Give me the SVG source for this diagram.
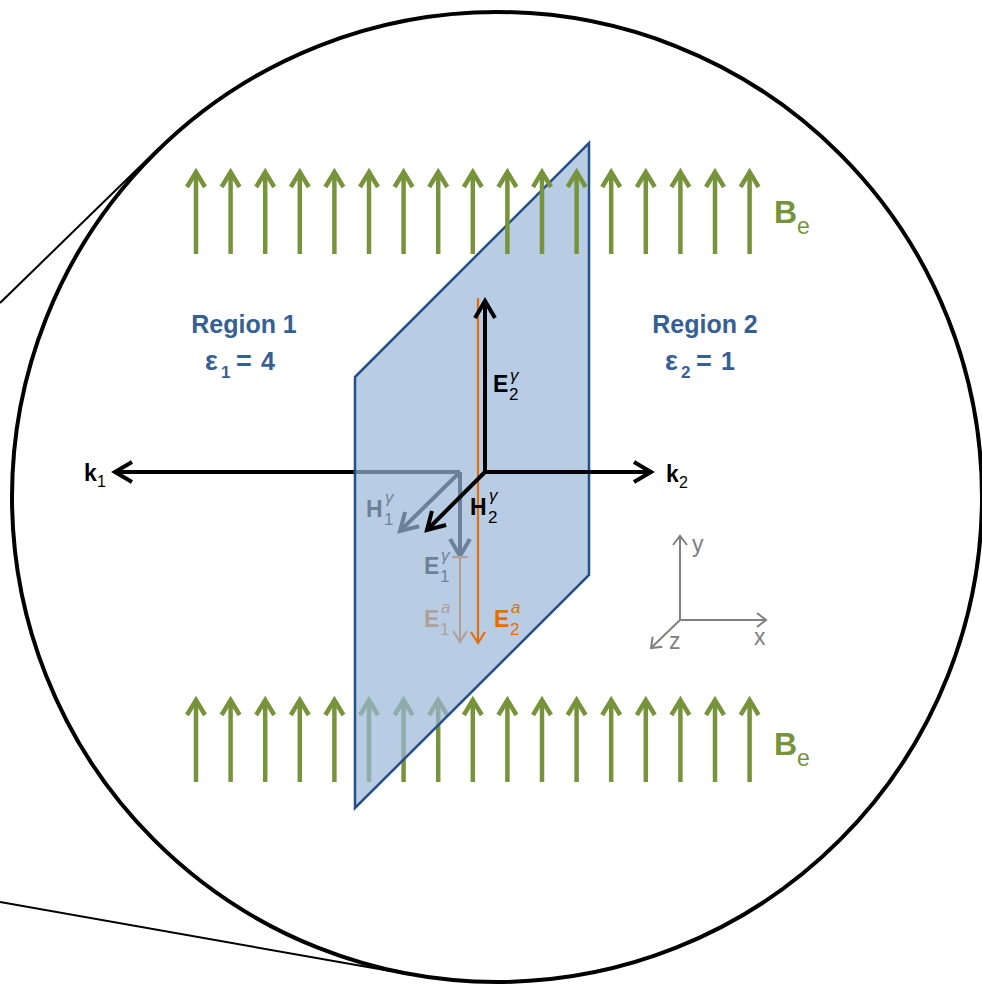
<svg xmlns="http://www.w3.org/2000/svg" xmlns:xlink="http://www.w3.org/1999/xlink" width="982" height="984" viewBox="0 0 982 984">
<style>
.txt{font-family:"Liberation Sans",Arial,sans-serif}
.b{font-weight:bold}
.it{font-style:italic}
.blue{fill:#376092}
.green{fill:#77933c}
.gray{fill:#808080}
.ga{stroke:#77933c;stroke-width:4.5;fill:none}
.blk{stroke:#000;stroke-width:4;fill:none}
.org{stroke:#e46c0a;stroke-width:2.2;fill:none}
.ax{stroke:#808080;stroke-width:2;fill:none}
</style>
<defs>
<g id="garrow">
<line class="ga" x1="0" y1="2" x2="0" y2="84"/>
<polyline class="ga" points="-9,17 0,2 9,17"/>
</g>
<marker id="mBlk" markerUnits="userSpaceOnUse" viewBox="-22 -14 26 28" markerWidth="26" markerHeight="28" refX="0" refY="0" orient="auto" overflow="visible">
<polyline points="-17,-10 0,0 -17,10" fill="none" stroke="#000" stroke-width="4"/>
</marker>
<marker id="mOrg" markerUnits="userSpaceOnUse" viewBox="-14 -10 16 20" markerWidth="16" markerHeight="20" refX="0" refY="0" orient="auto" overflow="visible">
<polyline points="-11,-7 0,0 -11,7" fill="none" stroke="#e46c0a" stroke-width="2.2"/>
</marker>
<marker id="mAx" markerUnits="userSpaceOnUse" viewBox="-12 -9 14 18" markerWidth="14" markerHeight="18" refX="0" refY="0" orient="auto" overflow="visible">
<polyline points="-9,-7 0,0 -9,7" fill="none" stroke="#808080" stroke-width="2"/>
</marker>
</defs>
<rect width="982" height="984" fill="#fff"/>
<g id="lens">
<circle cx="497" cy="497" r="485" fill="none" stroke="#000" stroke-width="4"/>
<line x1="0" y1="303" x2="159" y2="148" stroke="#000" stroke-width="2"/>
<line x1="0" y1="902" x2="413" y2="975" stroke="#000" stroke-width="2"/>
</g>
<g id="field-bottom">
<use xlink:href="#garrow" x="196" y="698"/>
<use xlink:href="#garrow" x="230.6" y="698"/>
<use xlink:href="#garrow" x="265.2" y="698"/>
<use xlink:href="#garrow" x="299.8" y="698"/>
<use xlink:href="#garrow" x="334.4" y="698"/>
<use xlink:href="#garrow" x="369" y="698"/>
<use xlink:href="#garrow" x="403.6" y="698"/>
<use xlink:href="#garrow" x="438.2" y="698"/>
<use xlink:href="#garrow" x="472.8" y="698"/>
<use xlink:href="#garrow" x="507.4" y="698"/>
<use xlink:href="#garrow" x="542" y="698"/>
<use xlink:href="#garrow" x="576.6" y="698"/>
<use xlink:href="#garrow" x="611.2" y="698"/>
<use xlink:href="#garrow" x="645.8" y="698"/>
<use xlink:href="#garrow" x="680.4" y="698"/>
<use xlink:href="#garrow" x="715" y="698"/>
<use xlink:href="#garrow" x="749.6" y="698"/>
</g>
<g id="connectors-behind">
<line x1="460" y1="472" x2="115" y2="472" class="blk" marker-end="url(#mBlk)"/>
<line x1="460" y1="472" x2="400" y2="531" class="blk" marker-end="url(#mBlk)"/>
<line x1="460" y1="472" x2="460" y2="556" class="blk" marker-end="url(#mBlk)"/>
<line x1="460" y1="557" x2="460" y2="642" class="org" marker-end="url(#mOrg)"/>
<line x1="452" y1="557" x2="468" y2="557" class="org"/>
</g>
<g id="labels-behind" class="txt">
<text x="366" y="517" font-size="23" class="b">H</text>
<text x="384" y="525" font-size="17">1</text>
<text x="385" y="503" font-size="17" class="it">γ</text>
<text x="424" y="574" font-size="23" class="b">E</text>
<text x="440" y="582" font-size="17">1</text>
<text x="441" y="561" font-size="17" class="it">γ</text>
<text x="424" y="627" font-size="23" class="b" fill="#e46c0a">E</text>
<text x="440" y="635" font-size="17" fill="#e46c0a">1</text>
<text x="441" y="613" font-size="17" class="it" fill="#e46c0a">a</text>
</g>
<g id="plane">
<polygon points="355,377 589,143 589,575 355,808" fill="#9ab6d8" fill-opacity="0.7" stroke="#254f86" stroke-width="2.5" stroke-linejoin="miter"/>
</g>
<g id="field-top">
<use xlink:href="#garrow" x="196" y="170"/>
<use xlink:href="#garrow" x="230.6" y="170"/>
<use xlink:href="#garrow" x="265.2" y="170"/>
<use xlink:href="#garrow" x="299.8" y="170"/>
<use xlink:href="#garrow" x="334.4" y="170"/>
<use xlink:href="#garrow" x="369" y="170"/>
<use xlink:href="#garrow" x="403.6" y="170"/>
<use xlink:href="#garrow" x="438.2" y="170"/>
<use xlink:href="#garrow" x="472.8" y="170"/>
<use xlink:href="#garrow" x="507.4" y="170"/>
<use xlink:href="#garrow" x="542" y="170"/>
<use xlink:href="#garrow" x="576.6" y="170"/>
<use xlink:href="#garrow" x="611.2" y="170"/>
<use xlink:href="#garrow" x="645.8" y="170"/>
<use xlink:href="#garrow" x="680.4" y="170"/>
<use xlink:href="#garrow" x="715" y="170"/>
<use xlink:href="#garrow" x="749.6" y="170"/>
</g>
<g id="connectors-front">
<line x1="478" y1="298" x2="478" y2="643" class="org" marker-end="url(#mOrg)"/>
<line x1="485" y1="472" x2="485" y2="301" class="blk" marker-end="url(#mBlk)"/>
<line x1="483" y1="472" x2="651" y2="472" class="blk" marker-end="url(#mBlk)"/>
<line x1="485" y1="472" x2="427" y2="530" class="blk" marker-end="url(#mBlk)"/>
</g>
<g id="labels-front" class="txt">
<text x="493" y="392" font-size="23" class="b">E</text>
<text x="509" y="400" font-size="17">2</text>
<text x="510" y="381" font-size="17" class="it">γ</text>
<text x="470" y="515" font-size="23" class="b">H</text>
<text x="488" y="523" font-size="17">2</text>
<text x="489" y="501" font-size="17" class="it">γ</text>
<text x="494" y="627" font-size="23" class="b" fill="#e46c0a">E</text>
<text x="510" y="635" font-size="17" fill="#e46c0a">2</text>
<text x="511" y="613" font-size="17" class="it" fill="#e46c0a">a</text>
</g>
<g id="k1" class="txt">
<text x="84" y="481" font-size="23" class="b">k</text>
<text x="97" y="487" font-size="16">1</text>
</g>
<g id="k2" class="txt">
<text x="666" y="482" font-size="23" class="b">k</text>
<text x="679" y="488" font-size="16">2</text>
</g>
<g id="region1" class="txt b blue">
<text x="244" y="333" font-size="25" text-anchor="middle">Region 1</text>
<text x="205" y="370" font-size="27">ε</text>
<text x="221" y="378" font-size="17">1</text>
<text x="236" y="370" font-size="27">=</text>
<text x="261" y="370" font-size="25">4</text>
</g>
<g id="region2" class="txt b blue">
<text x="705" y="333" font-size="25" text-anchor="middle">Region 2</text>
<text x="665" y="370" font-size="27">ε</text>
<text x="681" y="378" font-size="17">2</text>
<text x="696" y="370" font-size="27">=</text>
<text x="721" y="370" font-size="25">1</text>
</g>
<g id="Be-top" class="txt green">
<text x="774" y="223" font-size="32" class="b">B</text>
<text x="797" y="234" font-size="23">e</text>
</g>
<g id="Be-bottom" class="txt green">
<text x="774" y="755" font-size="32" class="b">B</text>
<text x="797" y="766" font-size="23">e</text>
</g>
<g id="axes">
<line x1="680" y1="621" x2="680" y2="536" class="ax" marker-end="url(#mAx)"/>
<line x1="679" y1="620" x2="766" y2="620" class="ax" marker-end="url(#mAx)"/>
<line x1="680" y1="620" x2="651" y2="648" class="ax" marker-end="url(#mAx)"/>
<text x="692" y="552" font-size="23" class="txt gray">y</text>
<text x="754" y="645" font-size="23" class="txt gray">x</text>
<text x="669" y="649" font-size="23" class="txt gray">z</text>
</g>
</svg>
